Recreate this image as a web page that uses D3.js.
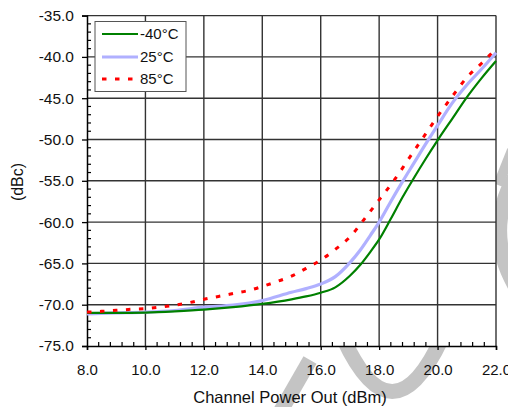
<!DOCTYPE html>
<html>
<head>
<meta charset="utf-8">
<script src="https://cdn.jsdelivr.net/npm/d3@7"></script>
<style>
  html, body { margin: 0; padding: 0; background: #fff; }
  svg { display: block; font-family: "Liberation Sans", Arial, sans-serif; }
</style>
</head>
<body>
<svg id="chart" width="508" height="407"></svg>
<script>
// ---- data ----
const xTickValues = [8, 10, 12, 14, 16, 18, 20, 22];
const yTickValues = [-75, -70, -65, -60, -55, -50, -45, -40, -35];
const seriesNames = ["-40\u00B0C", "25\u00B0C", "85\u00B0C"];

const xM40 = [8, 9, 10, 11, 12, 13, 14, 15, 15.5, 16, 16.5, 17, 17.35, 17.7, 18, 18.4, 18.8, 19.2, 19.6, 20, 20.5, 21, 21.5, 22];
const yM40 = [-71.0, -71.0, -70.95, -70.8, -70.6, -70.3, -69.9, -69.35, -69.0, -68.55, -67.9, -66.5, -65.2, -63.6, -62.1, -59.6, -57.0, -54.6, -52.3, -50.1, -47.5, -44.9, -42.6, -40.5];

const x25 = [8, 9, 10, 11, 12, 13, 14, 15, 15.5, 16, 16.5, 17, 17.35, 17.7, 18, 18.4, 18.8, 19.2, 19.6, 20, 20.5, 21, 21.5, 22];
const y25 = [-71.1, -71.0, -70.9, -70.7, -70.3, -70.05, -69.5, -68.5, -68.05, -67.5, -66.6, -64.9, -63.4, -61.6, -60.0, -57.5, -55.1, -52.8, -50.5, -48.3, -45.6, -43.4, -41.5, -39.5];

const x85 = [8, 8.5, 9, 9.5, 10, 10.5, 11, 11.5, 12, 12.5, 13, 13.5, 14, 14.5, 15, 15.5, 16, 16.5, 17, 17.5, 18, 18.5, 19, 19.5, 20, 20.5, 21, 21.5, 22];
const y85 = [-70.9, -70.8, -70.68, -70.56, -70.48, -70.3, -70.05, -69.75, -69.35, -69.0, -68.65, -68.3, -67.8, -67.2, -66.55, -65.6, -64.6, -63.3, -61.8, -59.6, -57.3, -55.0, -52.4, -49.8, -47.2, -44.8, -42.5, -40.8, -39.0];

// ---- layout ----
const svg = d3.select("#chart");
const X0 = 87, X1 = 496, Y0 = 346, Y1 = 15.6;
const x = d3.scaleLinear().domain([8, 22]).range([X0, X1]);
const y = d3.scaleLinear().domain([-75, -35]).range([Y0, Y1]);

// watermark (behind the plot area)
const wm = svg.append("g").attr("fill", "none").attr("stroke", "#c4c4c4").attr("stroke-width", 15);
wm.append("path").attr("d", "M310,360 L279,414");
wm.append("path").attr("d", "M343,338 Q392,445 442,338");
wm.append("path").attr("d", "M522,165 Q476,232 524,300");
wm.append("path").attr("d", "M512,150 L498,185").attr("stroke-width", 10);

// plot background
svg.append("rect").attr("x", X0).attr("y", Y1).attr("width", X1 - X0).attr("height", Y0 - Y1).attr("fill", "#fff");

// grid
const grid = svg.append("g").attr("stroke", "#333").attr("stroke-width", 1.4);
xTickValues.slice(1).forEach(v => {
  grid.append("line").attr("x1", x(v)).attr("x2", x(v)).attr("y1", Y1).attr("y2", Y0);
});
yTickValues.slice(1).forEach(v => {
  grid.append("line").attr("x1", X0).attr("x2", X1).attr("y1", y(v)).attr("y2", y(v));
});

// axes
const xAxis = d3.axisBottom(x).tickValues(xTickValues).tickSize(4).tickPadding(14)
  .tickFormat(d => d.toFixed(1));
const gx = svg.append("g").attr("transform", `translate(0,${Y0})`).call(xAxis);
gx.select(".domain").attr("stroke", "#000").attr("stroke-width", 1.5);
gx.selectAll(".tick line").attr("stroke", "#000").attr("stroke-width", 1.3);
gx.selectAll("text").attr("font-size", 15).attr("fill", "#111").attr("font-family", "Liberation Sans, Arial, sans-serif");

const xMinor = d3.range(8, 22.001, 0.4).filter(v => Math.abs(v / 2 - Math.round(v / 2)) > 0.01);
svg.append("g").attr("stroke", "#000").attr("stroke-width", 1.2)
  .selectAll("line").data(xMinor).join("line")
  .attr("x1", d => x(d)).attr("x2", d => x(d)).attr("y1", Y0).attr("y2", Y0 - 4);

const yAxis = d3.axisLeft(y).tickValues(yTickValues).tickSize(5).tickPadding(8)
  .tickFormat(d => d.toFixed(1));
const gy = svg.append("g").attr("transform", `translate(${X0},0)`).call(yAxis);
gy.select(".domain").attr("stroke", "#000").attr("stroke-width", 1.5);
gy.selectAll(".tick line").attr("stroke", "#000").attr("stroke-width", 1.3);
gy.selectAll("text").attr("font-size", 15.5).attr("fill", "#111").attr("font-family", "Liberation Sans, Arial, sans-serif");

const yMinor = d3.range(-75, -35, 1).filter(v => v % 5 !== 0);
svg.append("g").attr("stroke", "#000").attr("stroke-width", 1.2)
  .selectAll("line").data(yMinor).join("line")
  .attr("x1", X0).attr("x2", X0 + 4).attr("y1", d => y(d)).attr("y2", d => y(d));

// series
const line = d3.line().x(d => x(d[0])).y(d => y(d[1])).curve(d3.curveMonotoneX);
const zip = (a, b) => a.map((v, i) => [v, b[i]]);
const styles = [
  { color: "#008000", width: 2.2, dash: null },
  { color: "#b0b0ff", width: 3.2, dash: null },
  { color: "#ff0000", width: 3, dash: "4.5,8.5" }
];
const data = [zip(xM40, yM40), zip(x25, y25), zip(x85, y85)];
const plot = svg.append("g");
[1, 0, 2].forEach(i => {
  plot.append("path").datum(data[i]).attr("d", line)
    .attr("fill", "none").attr("stroke", styles[i].color)
    .attr("stroke-width", styles[i].width)
    .attr("stroke-dasharray", styles[i].dash);
});

// legend
const lg = svg.append("g");
lg.append("rect").attr("x", 95).attr("y", 21.5).attr("width", 91).attr("height", 70)
  .attr("fill", "#fff").attr("stroke", "#555").attr("stroke-width", 1);
const legY = [34, 57, 79];
seriesNames.forEach((name, i) => {
  lg.append("line").attr("x1", 102).attr("x2", 138).attr("y1", legY[i]).attr("y2", legY[i])
    .attr("stroke", styles[i].color).attr("stroke-width", styles[i].width)
    .attr("stroke-dasharray", styles[i].dash);
  lg.append("text").attr("x", 140).attr("y", legY[i]).attr("dy", "0.36em")
    .attr("font-size", 15).attr("fill", "#111").text(name);
});

// axis titles
svg.append("text").attr("x", 290).attr("y", 397).attr("dy", "0.36em").attr("text-anchor", "middle")
  .attr("font-size", 16.5).attr("fill", "#111").text("Channel Power Out (dBm)");
svg.append("text").attr("transform", "translate(17,182) rotate(-90)").attr("dy", "0.36em")
  .attr("text-anchor", "middle").attr("font-size", 16).attr("fill", "#111").text("(dBc)");
</script>
</body>
</html>
